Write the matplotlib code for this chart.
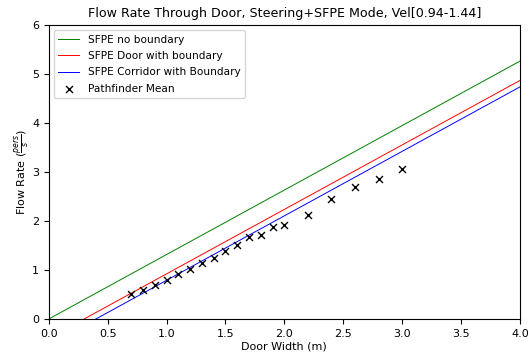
import numpy as np
import matplotlib
matplotlib.use("Agg")
import matplotlib.pyplot as plt

door_width = np.array([0.0, 4.0])
specific_flow = 1.316
door_boundary = 0.3
corridor_boundary = 0.4

pf_width = [0.7, 0.8, 0.9, 1.0, 1.1, 1.2, 1.3, 1.4, 1.5, 1.6, 1.7, 1.8, 1.9, 2.0,
            2.2, 2.4, 2.6, 2.8, 3.0]
pf_mean = [0.50, 0.59, 0.69, 0.79, 0.92, 1.02, 1.14, 1.24, 1.39, 1.50, 1.67, 1.71,
           1.88, 1.92, 2.13, 2.45, 2.69, 2.86, 3.07]

fig = plt.figure(figsize=(5.31, 3.54), dpi=100)
ax = fig.add_axes([0.092, 0.099, 0.887, 0.830])

ax.plot(door_width, specific_flow * door_width, color="green", lw=0.7,
        label="SFPE no boundary")
ax.plot(door_width, specific_flow * (door_width - door_boundary), color="red", lw=0.7,
        label="SFPE Door with boundary")
ax.plot(door_width, specific_flow * (door_width - corridor_boundary), color="blue", lw=0.7,
        label="SFPE Corridor with Boundary")
ax.scatter(pf_width, pf_mean, marker="x", color="black", s=25, lw=1.0,
           label="Pathfinder Mean", zorder=3)

ax.set_xlim(0, 4)
ax.set_ylim(0, 6)
ax.set_xticks(np.arange(0, 4.01, 0.5))
ax.tick_params(labelsize=8)
ax.set_xlabel("Door Width (m)", fontsize=8, labelpad=2)
ax.set_ylabel(r"Flow Rate ($\frac{pers}{s}$)", fontsize=8, labelpad=1)
ax.set_title("Flow Rate Through Door, Steering+SFPE Mode, Vel[0.94-1.44]", fontsize=9.1)
ax.legend(loc="upper left", fontsize=7.6, labelspacing=0.6)

fig.savefig("out.png", dpi=100)
